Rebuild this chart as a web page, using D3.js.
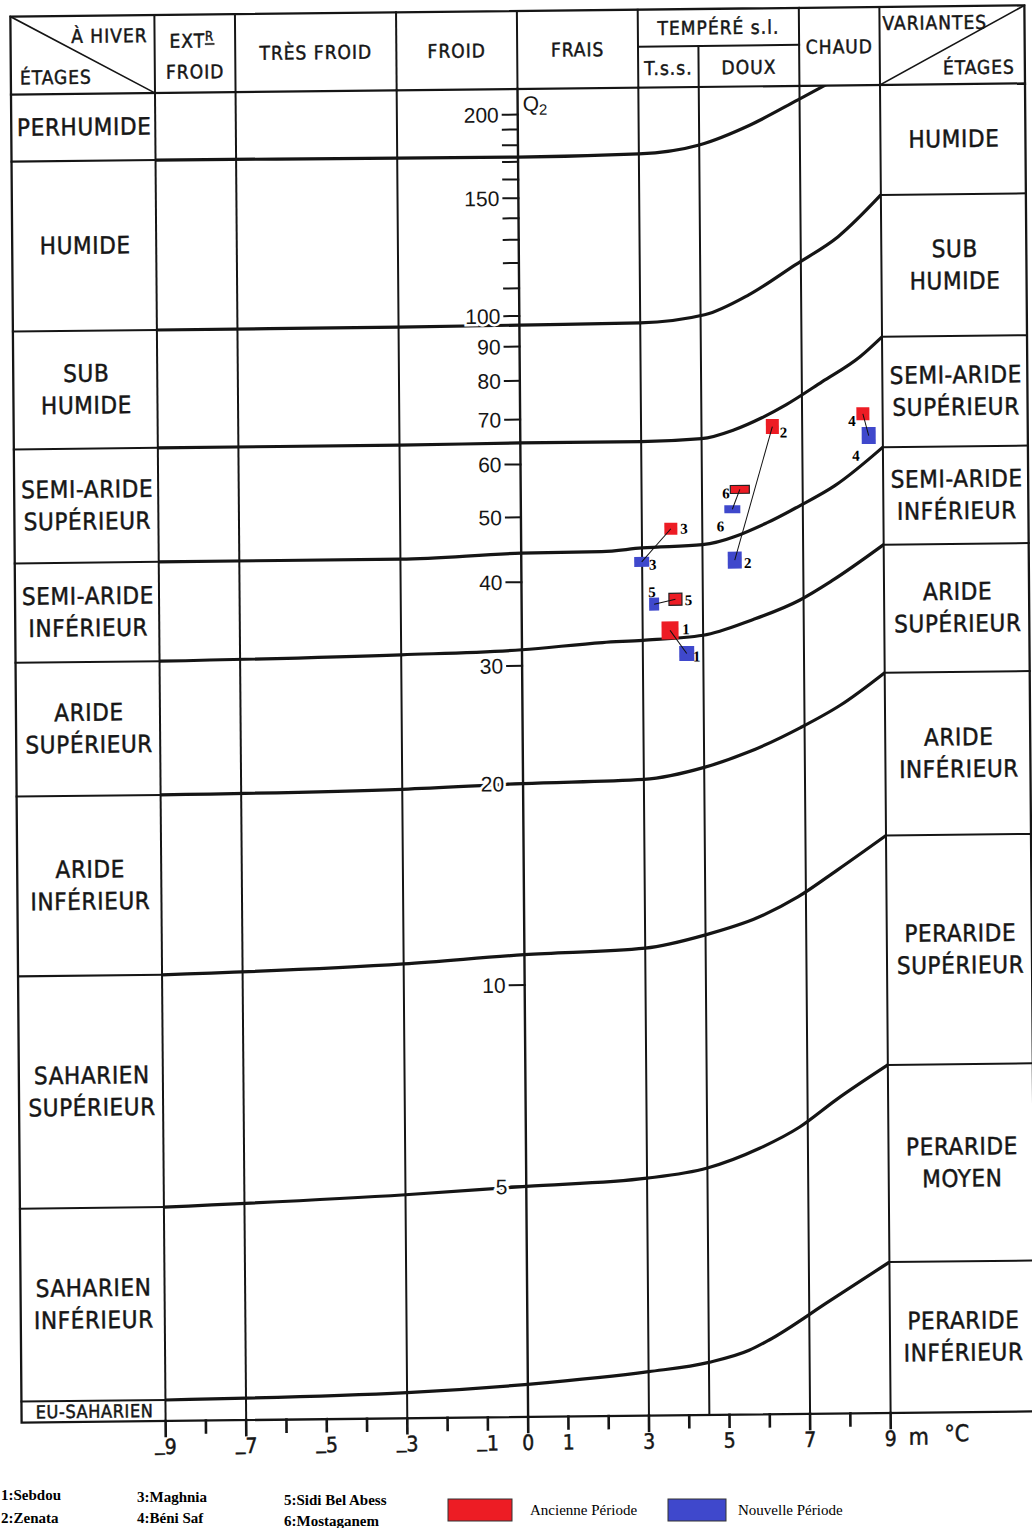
<!DOCTYPE html>
<html>
<head>
<meta charset="utf-8">
<script src="https://cdn.jsdelivr.net/npm/d3@7"></script>
<style>
  html, body { margin: 0; padding: 0; background: #fff; }
  svg { display: block; }
  .cap { font-family: "DejaVu Sans Condensed", "DejaVu Sans", sans-serif; font-stretch: condensed; fill: #161616; stroke: #161616; stroke-width: 0.45px; }
  .num { font-family: "Liberation Sans", Arial, sans-serif; fill: #161616; }
  .serif { font-family: "Liberation Serif", "Times New Roman", serif; fill: #000; }
</style>
</head>
<body>
<svg id="chart" width="1032" height="1528"></svg>
<script>
// ---- Climagramme d'Emberger : Q2 (log) contre m (°C) ----

// bioclimatic stages, left column (top to bottom)
const etagesLeft = [
  ["PERHUMIDE"], ["HUMIDE"], ["SUB", "HUMIDE"], ["SEMI-ARIDE", "SUPÉRIEUR"],
  ["SEMI-ARIDE", "INFÉRIEUR"], ["ARIDE", "SUPÉRIEUR"], ["ARIDE", "INFÉRIEUR"],
  ["SAHARIEN", "SUPÉRIEUR"], ["SAHARIEN", "INFÉRIEUR"], ["EU-SAHARIEN"]
];
// variants, right column (top to bottom)
const variantesRight = [
  ["HUMIDE"], ["SUB", "HUMIDE"], ["SEMI-ARIDE", "SUPÉRIEUR"], ["SEMI-ARIDE", "INFÉRIEUR"],
  ["ARIDE", "SUPÉRIEUR"], ["ARIDE", "INFÉRIEUR"], ["PERARIDE", "SUPÉRIEUR"],
  ["PERARIDE", "MOYEN"], ["PERARIDE", "INFÉRIEUR"]
];

// winter classes along the top, bounded by m values
const hiverBreaks = [-9, -7, -3, 0, 3, 7, 9];
const hiverNames = ["EXTR FROID", "TRÈS  FROID", "FROID", "FRAIS", "TEMPÉRÉ s.l.", "CHAUD"];
const tempereBreaks = [3, 4.5, 7];
const tempereNames = ["T.s.s.", "DOUX"];

// limits between stages: [m, Q2]
const limites = [
  [[-9, 173.4], [-3, 173.0], [0, 172.8], [3, 173.9], [4.5, 178.9], [5.77, 191.3], [6.96, 208.2], [7.56, 217.5], [8.2, 228]],
  [[-9, 96.6], [-3, 96.7], [0, 96.9], [3, 97.2], [4.6, 99.7], [5.7, 106.6], [6.86, 118.0], [7.93, 129.8], [9, 149.6]],
  [[-9, 64.4], [-3, 64.4], [0, 64.6], [3, 64.6], [4.5, 65.1], [5.3, 67.0], [6, 69.8], [6.6, 72.9], [7.5, 78.8], [8.45, 85.8], [9, 91.8]],
  [[-9, 43.5], [-3, 43.5], [0, 44.2], [2, 44.3], [3, 44.8], [4.5, 45.2], [6.1, 48.6], [6.9, 51.4], [7.8, 55.1], [9, 62.8]],
  [[-9, 30.9], [-3, 31.3], [0, 31.7], [2, 32.4], [3, 32.6], [4.5, 33.1], [5.7, 34.8], [6.9, 37.2], [7.7, 39.7], [9, 44.9]],
  [[-9, 19.5], [-3, 19.7], [0, 20.0], [3, 20.2], [4.5, 21.0], [5.6, 22.1], [6.9, 24.0], [7.9, 25.9], [9, 28.9]],
  [[-9, 10.5], [-3, 10.8], [0, 11.1], [3, 11.3], [4.5, 11.8], [5.8, 12.5], [6.8, 13.4], [7.8, 14.7], [9, 16.5]],
  [[-9, 4.72], [-3, 4.88], [0, 5.0], [3, 5.12], [4.5, 5.29], [5.8, 5.65], [6.8, 6.07], [7.7, 6.65], [9, 7.49]],
  [[-9, 2.43], [-3, 2.47], [0, 2.53], [3, 2.63], [4.5, 2.71], [5.5, 2.82], [6, 2.92], [7.5, 3.33], [9, 3.80]]
];

// axes
const q2Labels = [200, 150, 100, 90, 80, 70, 60, 50, 40, 30, 20, 10, 5];
const q2Minor = [110, 120, 130, 140, 160, 170, 180, 190];
const mTicks = [-9, -8, -7, -6, -5, -4, -3, -2, -1, 0, 1, 2, 3, 4, 5, 6, 7, 8, 9];
const mLabels = [-9, -7, -5, -3, -1, 0, 1, 3, 5, 7, 9];
const mGrid = [-9, -7, -3, 0, 3, 4.5, 7, 9];

// stations
const stations = ["1:Sebdou", "2:Zenata", "3:Maghnia", "4:Béni Saf", "5:Sidi Bel Abess", "6:Mostaganem"];
const stationNo = ["1", "2", "3", "4", "5", "6"];
const ancienneM = [3.68, 6.26, 3.72, 8.51, 3.82, 5.44];
const ancienneQ2 = [33.7, 67.7, 47.8, 70.5, 37.5, 54.6];
const nouvelleM = [4.09, 5.30, 2.99, 8.65, 3.29, 5.25];
const nouvelleQ2 = [31.1, 42.8, 42.7, 65.4, 36.9, 51.0];
const periodes = ["Ancienne Période", "Nouvelle Période"];
const periodeColors = ["#ed1c24", "#3f48cc"];

// ---- layout ----
const F = { left: 16, right: 1030, top: 11, split: 48, head: 89, bottom: 1417 };
const ink = "#151515";

const x = d3.scaleLinear().domain([-9, 9]).range([160, 885]);
const y = d3.scaleLog().domain([10, 100]).range([985, 316]);

const svg = d3.select("#chart");
const g = svg.append("g").attr("transform", "matrix(1,-0.011,0.008,1,-5.72,5.72)");

const line = (x1, y1, x2, y2, w = 2) =>
  g.append("line").attr("x1", x1).attr("y1", y1).attr("x2", x2).attr("y2", y2)
    .attr("stroke", ink).attr("stroke-width", w).attr("stroke-linecap", "square");

// frame
g.append("rect").attr("x", F.left).attr("y", F.top)
  .attr("width", F.right - F.left).attr("height", F.bottom - F.top)
  .attr("fill", "none").attr("stroke", ink).attr("stroke-width", 2.3);
line(F.left, F.head, F.right, F.head, 2.2);

// header dividers and grid
hiverBreaks.forEach(m => line(x(m), F.top, x(m), F.head, 2));
line(x(3), F.split, x(7), F.split, 2);
line(x(4.5), F.split, x(4.5), F.head, 2);
mGrid.forEach(m => line(x(m), F.head, x(m), F.bottom, m === 0 ? 2.4 : 2));

// corner diagonals
line(F.left, F.top, x(-9), F.head, 1.6);
line(x(9), F.head, F.right, F.top, 1.6);

// header texts
const capText = (tx, ty, str, size, anchor = "middle", ls = 1) =>
  g.append("text").attr("class", "cap").attr("x", tx).attr("y", ty)
    .attr("font-size", size).attr("letter-spacing", ls)
    .attr("text-anchor", anchor).attr("dominant-baseline", "central").text(str);

capText(153, 31, "À HIVER", 19, "end");
capText(25, 72, "ÉTAGES", 19, "start");
capText(888, 27, "VARIANTES", 19, "start");
capText(1020, 72, "ÉTAGES", 19, "end");

hiverNames.forEach((name, i) => {
  const cx = (x(hiverBreaks[i]) + x(hiverBreaks[i + 1])) / 2;
  if (i === 0) {
    const [a, b] = name.split(" ");
    const t = capText(cx - 3, 37, "", 19);
    t.append("tspan").text(a.slice(0, 3));
    t.append("tspan").text(a.slice(3)).attr("font-size", 13).attr("dy", -5)
      .attr("text-decoration", "underline");
    capText(cx, 68, b, 19);
  } else if (name.startsWith("TEMP")) {
    capText(cx, (F.top + F.split) / 2, name, 19);
  } else {
    capText(cx, (F.top + F.head) / 2, name, 19);
  }
});
tempereNames.forEach((name, i) => {
  const cx = (x(tempereBreaks[i]) + x(tempereBreaks[i + 1])) / 2;
  capText(cx, (F.split + F.head) / 2 + 1, name, 19);
});

// stage limit curves
g.append("clipPath").attr("id", "plotClip").append("rect")
  .attr("x", x(-9)).attr("y", F.head).attr("width", x(9) - x(-9)).attr("height", F.bottom - F.head);
const curveGen = d3.line().x(d => x(d[0])).y(d => y(d[1])).curve(d3.curveMonotoneX);
g.append("g").attr("clip-path", "url(#plotClip)")
  .selectAll("path").data(limites).join("path")
  .attr("d", curveGen).attr("fill", "none").attr("stroke", ink)
  .attr("stroke-width", 3.2).attr("stroke-linejoin", "round");

// column boundaries continue the curves
const leftBounds = [F.head, ...limites.map(c => y(c[0][1])), F.bottom];
limites.forEach(c => line(F.left, y(c[0][1]), x(-9), y(c[0][1]), 2));
const rightCurves = limites.filter(c => c[c.length - 1][0] >= 9);
const rightBounds = [F.head, ...rightCurves.map(c => y(c[c.length - 1][1])), F.bottom];
rightCurves.forEach(c => line(x(9), y(c[c.length - 1][1]), F.right, y(c[c.length - 1][1]), 2));

// stage labels
const bandLabel = (cx, y0, y1, lines, size) => {
  const mid = (y0 + y1) / 2;
  const gap = 32;
  lines.forEach((s, k) => {
    capText(cx, mid + (k - (lines.length - 1) / 2) * gap, s, size, "middle", 0.6);
  });
};
etagesLeft.forEach((lines, i) => {
  const small = lines[0] === "EU-SAHARIEN";
  bandLabel((F.left + x(-9)) / 2 + 1, leftBounds[i], leftBounds[i + 1], lines, small ? 18 : 24);
});
variantesRight.forEach((lines, i) => {
  bandLabel((x(9) + F.right) / 2 + 1, rightBounds[i], rightBounds[i + 1], lines, 24);
});

// Q2 axis
const x0 = x(0);
q2Minor.forEach(q => line(x0 - 15, y(q), x0, y(q), 2));
q2Labels.forEach(q => {
  line(x0 - 15, y(q), x0, y(q), 2);
  g.append("text").attr("class", "num").attr("x", x0 - 19).attr("y", y(q))
    .attr("font-size", 21).attr("text-anchor", "end").attr("dominant-baseline", "central")
    .attr("stroke", "#fff").attr("stroke-width", 5).attr("paint-order", "stroke")
    .text(q);
});
const q2t = g.append("text").attr("class", "num").attr("x", x0 + 5).attr("y", 103)
  .attr("font-size", 21).attr("dominant-baseline", "central");
q2t.append("tspan").text("Q");
q2t.append("tspan").text("2").attr("font-size", 15).attr("dy", 6);

// m axis
mTicks.forEach(m => {
  const long = hiverBreaks.includes(m);
  line(x(m), F.bottom, x(m), F.bottom + (long ? 15 : 12), 2.6);
});
mLabels.forEach(m => {
  const neg = m < 0;
  const t = g.append("text").attr("class", "cap")
    .attr("x", neg ? x(m) + 11 : x(m)).attr("y", 1443).attr("font-size", 21)
    .attr("text-anchor", neg ? "end" : "middle").attr("dominant-baseline", "central");
  if (neg) {
    t.append("tspan").text("_").attr("dy", -4);
    t.append("tspan").text(Math.abs(m)).attr("dy", 4);
  } else {
    t.text(String(m));
  }
});
capText(913, 1441, "m", 23, "middle", 0);
capText(951, 1438, "°C", 23, "middle", 0);

// stations : old and new periods
const ancSize = [[17, 18], [13, 15], [13, 12], [13, 13], [13, 12], [19, 8]];
const nouvSize = [[15, 15], [14, 17], [15, 10], [14, 17], [10, 13], [16, 8]];
const ancBorder = [false, false, false, false, true, true];
const ancLab = [[16, -1], [11, 6], [13, 0], [-11, 7], [13, 1], [-14, 4]];
const nouvLab = [[10, 3], [13, 3], [11, 3], [-13, 20], [-2, -12], [-12, 17]];

const pts = stationNo.map((id, i) => ({
  id,
  a: [x(ancienneM[i]), y(ancienneQ2[i])],
  n: [x(nouvelleM[i]), y(nouvelleQ2[i])],
  i
}));
const marks = g.append("g");
pts.forEach(p => {
  const [aw, ah] = ancSize[p.i], [nw, nh] = nouvSize[p.i];
  marks.append("rect").attr("x", p.n[0] - nw / 2).attr("y", p.n[1] - nh / 2)
    .attr("width", nw).attr("height", nh).attr("fill", periodeColors[1]);
  marks.append("rect").attr("x", p.a[0] - aw / 2).attr("y", p.a[1] - ah / 2)
    .attr("width", aw).attr("height", ah).attr("fill", periodeColors[0])
    .attr("stroke", ancBorder[p.i] ? "#222" : "none").attr("stroke-width", 1.2);
});
pts.forEach(p => {
  marks.append("line").attr("x1", p.a[0]).attr("y1", p.a[1]).attr("x2", p.n[0]).attr("y2", p.n[1])
    .attr("stroke", "#111").attr("stroke-width", 1);
});
pts.forEach(p => {
  [[p.a, ancLab[p.i]], [p.n, nouvLab[p.i]]].forEach(([c, off]) => {
    marks.append("text").attr("class", "serif").attr("x", c[0] + off[0]).attr("y", c[1] + off[1])
      .attr("font-size", 15).attr("font-weight", "bold")
      .attr("text-anchor", "middle").attr("dominant-baseline", "central").text(p.id);
  });
});

// legend
const legX = [1, 1, 137, 137, 284, 284];
const legY = [1500, 1523, 1502, 1523, 1505, 1526];
stations.forEach((s, i) => {
  svg.append("text").attr("class", "serif").attr("x", legX[i]).attr("y", legY[i])
    .attr("font-size", 15).attr("font-weight", "bold").text(s);
});
const boxX = [448, 668], boxW = [64, 58], labX = [530, 738];
periodes.forEach((p, i) => {
  svg.append("rect").attr("x", boxX[i]).attr("y", 1499).attr("width", boxW[i]).attr("height", 22)
    .attr("fill", periodeColors[i]).attr("stroke", "#333").attr("stroke-width", 1);
  svg.append("text").attr("class", "serif").attr("x", labX[i]).attr("y", 1515)
    .attr("font-size", 15).text(p);
});
</script>
</body>
</html>
